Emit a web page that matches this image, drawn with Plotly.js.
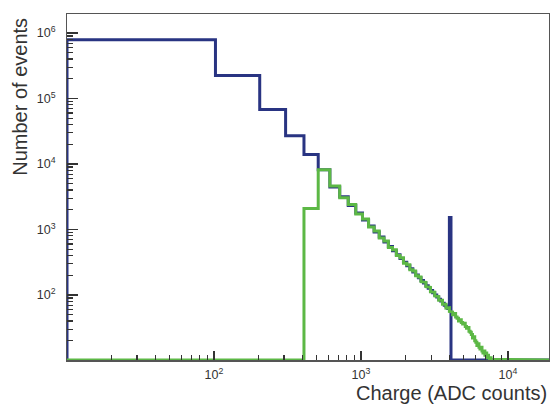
<!DOCTYPE html>
<html>
<head>
<meta charset="utf-8">
<script src="https://cdn.plot.ly/plotly-3.0.1.min.js"></script>
<style>html,body{margin:0;padding:0;background:#fff;}#chart{width:550px;height:407px;}</style>
</head>
<body>
<div id="chart"></div>
<script>
// ---- data ----
const binWidth = 102.4;          // ADC counts per bin
const histUpperEdge = 20480;     // histogram range upper edge (ADC counts)
// blue histogram: counts per bin starting at 0 ADC; bins beyond the list are empty
const blueCounts = [
  790000, 224000, 68000, 27000, 14000,
  8200, 4440, 3150, 2330, 1780, 1400, 1130, 920, 770, 646,
  550, 473, 411, 360, 317, 281, 251, 225, 202, 183,
  167, 152, 139, 127, 117, 108, 100, 93, 86, 81,
  75, 70, 66, 62, 1520
];
// green histogram: counts per bin starting at 0 ADC; bins beyond the list are empty
const greenCounts = [
  0, 0, 0, 0, 2100,
  8200, 4600, 3050, 2400, 1720, 1450, 1090, 950, 740, 670,
  530, 490, 400, 372, 305, 290, 243, 232, 196, 188,
  160, 156, 134, 131, 112, 111, 97, 95, 83, 83,
  72, 72, 63, 64, 56,
  55, 50, 52, 46, 44, 40, 42, 38, 36, 37,
  33, 31, 32, 28, 27, 25, 22, 23, 20, 19,
  17, 18, 16, 15, 16, 14, 13, 14, 12, 13,
  11, 12, 11, 10.6, 11, 10.4, 10.2, 10.1
];
const xTitle = "Charge (ADC counts)";
const yTitle = "Number of events";

// ---- layout constants ----
const xRange = [1.0005, 4.279];
const yRange = [1.008, 6.29];
const xMin = Math.pow(10, xRange[0]);
const yFloor = Math.pow(10, yRange[0]);

function stepPath(counts) {
  const xs = [xMin], ys = [yFloor];
  counts.forEach((c, i) => {
    const left = Math.max(i * binWidth, xMin);
    const right = (i + 1) * binWidth;
    const v = c > 0 ? Math.max(c, yFloor) : yFloor;
    xs.push(left, right); ys.push(v, v);
  });
  xs.push(counts.length * binWidth, histUpperEdge);
  ys.push(yFloor, yFloor);
  return {xs, ys};
}

const blue = stepPath(blueCounts);
const green = stepPath(greenCounts);

const traces = [
  {x: blue.xs, y: blue.ys, type: 'scatter', mode: 'lines',
   line: {color: '#293482', width: 3, shape: 'linear'}, hoverinfo: 'skip'},
  {x: green.xs, y: green.ys, type: 'scatter', mode: 'lines',
   line: {color: '#5cb845', width: 3, shape: 'linear'}, hoverinfo: 'skip'}
];

const tickFont = {family: 'Liberation Sans, Arial, sans-serif', size: 10, color: '#333'};
const minorCfg = (len) => ({dtick: 'D1', ticks: 'inside', ticklen: len, tickwidth: 1.2, tickcolor: '#333', showgrid: false});
const layout = {
  width: 550, height: 407,
  margin: {l: 67, r: 1, t: 14, b: 47, pad: 0},
  paper_bgcolor: '#fff', plot_bgcolor: '#fff',
  showlegend: false,
  xaxis: {
    type: 'log', range: xRange, showgrid: false, zeroline: false,
    showline: true, mirror: true, linecolor: '#555', linewidth: 1.5,
    ticks: 'inside', ticklen: 9, tickwidth: 1.5, tickcolor: '#333',
    tickmode: 'linear', tick0: 0, dtick: 1, exponentformat: 'power',
    tickfont: tickFont, ticklabelstandoff: 3,
    minor: minorCfg(5)
  },
  yaxis: {
    type: 'log', range: yRange, showgrid: false, zeroline: false,
    showline: true, mirror: true, linecolor: '#555', linewidth: 1.5,
    ticks: 'inside', ticklen: 11, tickwidth: 1.5, tickcolor: '#333',
    tickmode: 'linear', tick0: 0, dtick: 1, exponentformat: 'power',
    tickfont: tickFont, ticklabelstandoff: 8,
    minor: minorCfg(6)
  },
  annotations: [
    {text: xTitle, xref: 'paper', yref: 'paper', x: 1, y: 0, xanchor: 'right', yanchor: 'top',
     yshift: -20, showarrow: false, font: {family: 'Liberation Sans, Arial, sans-serif', size: 20, color: '#333'}},
    {text: yTitle, xref: 'paper', yref: 'paper', x: -0.098, y: 1, xanchor: 'center', yanchor: 'top',
     yshift: -2, textangle: -90, showarrow: false, font: {family: 'Liberation Sans, Arial, sans-serif', size: 20, color: '#333'}}
  ]
};

Plotly.newPlot('chart', traces, layout, {staticPlot: true, displayModeBar: false});
</script>
</body>
</html>
